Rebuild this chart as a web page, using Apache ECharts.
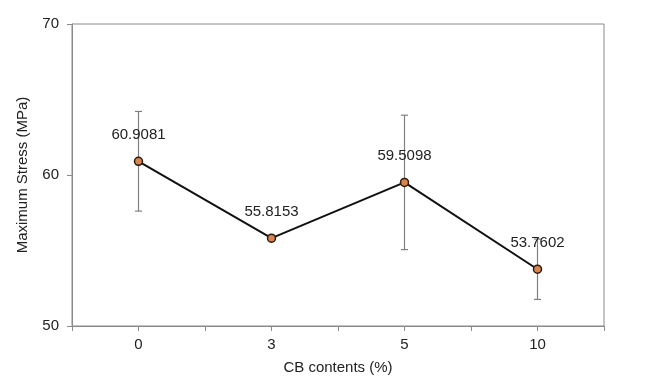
<!DOCTYPE html>
<html>
<head>
<meta charset="utf-8">
<script src="https://cdn.jsdelivr.net/npm/echarts@6/dist/echarts.min.js"></script>
<style>
  html, body { margin: 0; padding: 0; background: #fff; }
  #chart { width: 646px; height: 387px; }
</style>
</head>
<body>
<div id="chart"></div>
<script>
// CB content categories and measured maximum stress
var categories = ["0", "3", "5", "10"];
var stressMean = [60.9081, 55.8153, 59.5098, 53.7602];
// error bar half-heights (std dev)
var stressErr = [3.3, 0.1, 4.45, 2.0];

var axisGray = "#8a8a8a";
var textFont = "Liberation Sans, Arial, sans-serif";

var errData = [];
for (var i = 0; i < categories.length; i++) {
  errData.push([i, stressMean[i] - stressErr[i], stressMean[i] + stressErr[i]]);
}

var chartDom = document.getElementById("chart");
var myChart = echarts.init(chartDom);

var option = {
  backgroundColor: "#fff",
  animation: false,
  grid: {
    left: 72, right: 42, top: 24, bottom: 61,
    show: true, borderColor: axisGray, borderWidth: 1
  },
  xAxis: [
    {
      type: "category",
      data: categories,
      name: "CB contents (%)",
      nameLocation: "middle",
      nameGap: 34,
      nameTextStyle: { fontSize: 15, color: "#222", fontFamily: textFont },
      axisLine: { lineStyle: { color: axisGray, width: 1 } },
      axisTick: { show: true, length: 5, lineStyle: { color: axisGray } },
      axisLabel: { fontSize: 15, color: "#222", margin: 11, fontFamily: textFont },
      splitLine: { show: false }
    },
    {
      // second copy only for the ticks at the category centres
      type: "category",
      data: categories,
      position: "bottom",
      axisLine: { show: false },
      axisTick: { show: true, alignWithLabel: true, length: 5, lineStyle: { color: axisGray } },
      axisLabel: { show: false },
      splitLine: { show: false }
    }
  ],
  yAxis: {
    type: "value",
    min: 50, max: 70, interval: 10,
    name: "Maximum Stress (MPa)",
    nameLocation: "middle",
    nameGap: 42,
    nameTextStyle: { fontSize: 15, color: "#222", fontFamily: textFont },
    axisLine: { show: true, lineStyle: { color: axisGray, width: 1 } },
    axisTick: { show: true, length: 5, lineStyle: { color: axisGray } },
    axisLabel: { fontSize: 15, color: "#222", margin: 13, fontFamily: textFont },
    splitLine: { show: false }
  },
  series: [
    {
      type: "custom",
      z: 1,
      data: errData,
      renderItem: function (params, api) {
        var x = api.value(0);
        var lo = api.coord([x, api.value(1)]);
        var hi = api.coord([x, api.value(2)]);
        var w = 3.5;
        var st = { stroke: "#808080", lineWidth: 1.2 };
        return {
          type: "group",
          children: [
            { type: "line", shape: { x1: lo[0], y1: lo[1], x2: hi[0], y2: hi[1] }, style: st },
            { type: "line", shape: { x1: lo[0] - w, y1: lo[1], x2: lo[0] + w, y2: lo[1] }, style: st },
            { type: "line", shape: { x1: hi[0] - w, y1: hi[1], x2: hi[0] + w, y2: hi[1] }, style: st }
          ]
        };
      }
    },
    {
      type: "line",
      z: 3,
      data: stressMean,
      symbol: "circle",
      symbolSize: 8,
      lineStyle: { color: "#111", width: 2 },
      itemStyle: { color: "#d9844e", borderColor: "#2a1a10", borderWidth: 1.5 },
      label: {
        show: true,
        position: "top",
        distance: 14,
        fontSize: 15,
        color: "#222",
        fontFamily: textFont,
        formatter: function (p) { return p.value.toFixed(4); }
      }
    }
  ]
};

myChart.setOption(option);
</script>
</body>
</html>
